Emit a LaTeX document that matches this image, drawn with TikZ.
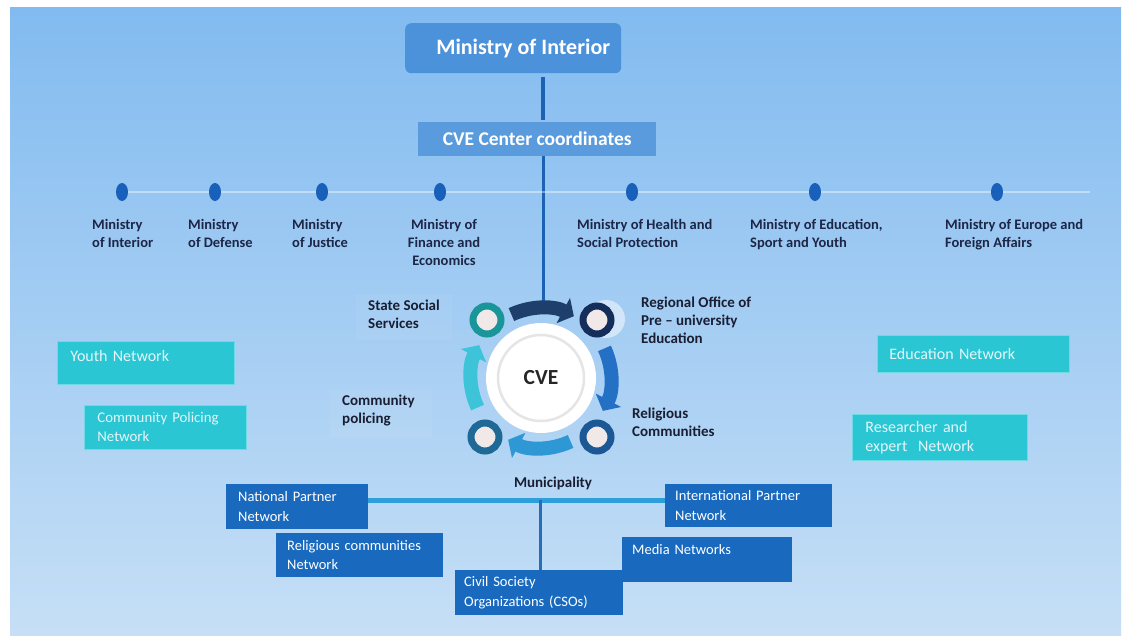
\documentclass[tikz,border=0pt]{standalone}
\usepackage{fontspec}
\setmainfont{Carlito}
\usetikzlibrary{arrows.meta,calc,shapes.geometric}
\definecolor{bgtop}{RGB}{130,187,240}
\definecolor{bgbot}{RGB}{198,223,246}
\definecolor{topFill}{RGB}{76,146,218}
\definecolor{spineC}{RGB}{28,98,178}
\definecolor{dotC}{RGB}{24,96,185}
\definecolor{minText}{RGB}{28,38,70}
\definecolor{cycText}{RGB}{25,30,50}
\definecolor{cyanFill}{RGB}{42,198,212}
\definecolor{cyanEdge}{RGB}{110,218,228}
\definecolor{cyanText}{RGB}{228,246,249}
\definecolor{darkFill}{RGB}{25,105,190}
\definecolor{barC}{RGB}{45,160,220}
\definecolor{stemC}{RGB}{40,110,180}
\definecolor{arrTop}{RGB}{30,62,108}
\definecolor{arrRight}{RGB}{35,112,196}
\definecolor{arrBottom}{RGB}{45,152,212}
\definecolor{arrLeft}{RGB}{62,196,216}
\definecolor{ringTL}{RGB}{26,150,155}
\definecolor{ringTR}{RGB}{20,45,90}
\definecolor{ringBL}{RGB}{30,105,150}
\definecolor{ringBR}{RGB}{28,88,150}
\definecolor{ringIn}{RGB}{240,233,231}
\tikzset{
  topbox/.style={fill=topFill, text=white, font=\fontsize{22}{25}\selectfont\bfseries, anchor=north west, inner sep=0pt},
  ministry/.style={font=\fontsize{14.5}{18}\selectfont\bfseries, text=minText, anchor=north west, inner sep=0pt, align=left},
  cyclabel/.style={font=\fontsize{15}{18}\selectfont\bfseries, text=cycText, anchor=north west, inner sep=0pt, align=left},
  dotnode/.style={ellipse, fill=dotC, minimum width=12pt, minimum height=18pt, inner sep=0pt},
  cyanbox/.style={fill=cyanFill, draw=cyanEdge, line width=0.8pt, text=cyanText, font=\fontsize{15.5}{19}\selectfont, align=left, anchor=north west, inner ysep=4pt},
  darkbox/.style={fill=darkFill, text=white, font=\fontsize{14.5}{19.5}\selectfont, align=left, anchor=north west, inner ysep=4pt},
  ring/.style={circle, fill=ringIn, minimum size=28pt, line width=7pt, inner sep=0pt},
  arcarrow/.style={line width=14pt, -{Triangle[width=28pt,length=12pt]}}
}
\begin{document}
\begin{tikzpicture}[x=1pt,y=-1pt]
\useasboundingbox (0,0) rectangle (1130,641);
\fill[white] (0,0) rectangle (1130,641);
\shade[top color=bgtop, bottom color=bgbot] (10,7) rectangle (1121,635);

% top boxes
\node[topbox, rounded corners=6pt, minimum width=216pt, minimum height=50pt] (moi) at (405,23) {\hspace{20pt}Ministry of Interior};
\node[topbox, fill=topFill!92!white, minimum width=238pt, minimum height=34pt, font=\fontsize{19.5}{22}\selectfont\bfseries] (cvec) at (418,122) {CVE Center coordinates\hspace{14pt}};
\coordinate (spine) at (543,0);
\coordinate (arrowtop) at (543,302);
\draw[spineC, line width=4pt] ($(moi.south -| spine)+(0,4)$) -- ($(cvec.north -| spine)+(0,-2)$);
\draw[spineC, line width=3pt] (cvec.south -| spine) -- (arrowtop);

% ministries row
\coordinate (rowend) at (1090,192);
\node[dotnode] (d1) at (122,192) {};
\node[dotnode] (d2) at (215,192) {};
\node[dotnode] (d3) at (322,192) {};
\node[dotnode] (d4) at (440,192) {};
\node[dotnode] (d5) at (632,192) {};
\node[dotnode] (d6) at (815,192) {};
\node[dotnode] (d7) at (997,192) {};
\draw[white, opacity=0.4, line width=2pt] (d1) -- (d2) -- (d3) -- (d4) -- (d5) -- (d6) -- (d7) -- (rowend);

\node[ministry] (m1) at (92,219) {Ministry\\of Interior};
\node[ministry] (m2) at (188,219) {Ministry\\of Defense};
\node[ministry] (m3) at (292,219) {Ministry\\of Justice};
\node[ministry, align=center, anchor=north] (m4) at (444,219) {Ministry of\\Finance and\\Economics};
\node[ministry] (m5) at (577,219) {Ministry of Health and\\Social Protection};
\node[ministry] (m6) at (750,219) {Ministry of Education,\\Sport and Youth};
\node[ministry] (m7) at (945,219) {Ministry of Europe and\\Foreign Affairs};

% faint label panels
\fill[white, opacity=0.05] (356,294) rectangle (452,340);
\fill[white, opacity=0.05] (330,390) rectangle (432,438);

% cycle
\coordinate (C) at (541,378);
\fill[white, opacity=0.5] (606,319) circle[radius=19];
\draw[arcarrow, arrTop] ($(C)+(245:70)$) arc[start angle=245, end angle=298, radius=70];
\draw[arcarrow, arrRight] ($(C)+(335:70)$) arc[start angle=335, end angle=388, radius=70];
\draw[arcarrow, arrBottom] ($(C)+(65:70)$) arc[start angle=65, end angle=118, radius=70];
\draw[arcarrow, arrLeft] ($(C)+(155:70)$) arc[start angle=155, end angle=208, radius=70];
\node[circle, fill=white, minimum size=110pt, inner sep=0pt] (disk) at (C) {};
\node[circle, draw=black!10, line width=2.5pt, minimum size=86pt, inner sep=0pt, font=\fontsize{21.5}{24}\selectfont\bfseries, text=black!85] (cve) at (C) {CVE};
\node[ring, draw=ringTL] (rTL) at (487,320) {};
\node[ring, draw=ringTR] (rTR) at (597,320) {};
\node[ring, draw=ringBL] (rBL) at (485,437) {};
\node[ring, draw=ringBR] (rBR) at (597,437) {};

\node[cyclabel] (lSSS) at (368,300) {State Social\\Services};
\node[cyclabel] (lROP) at (641,297) {Regional Office of\\Pre -- university\\Education};
\node[cyclabel] (lCP) at (342,395) {Community\\policing};
\node[cyclabel] (lRC) at (632,408) {Religious\\Communities};
\node[cyclabel, anchor=center] (lMun) at (553,483) {Municipality};

% cyan networks
\node[cyanbox, inner xsep=13pt, text width=151pt, minimum height=43pt, font=\fontsize{16}{19}\selectfont] (youth) at (57,341) {Youth Network\\[-6pt]\mbox{}};
\node[cyanbox, inner xsep=13pt, text width=136pt, minimum height=44pt, font=\fontsize{14.8}{19}\selectfont] (cpn) at (84,405) {Community Policing\\Network};
\node[cyanbox, inner xsep=12pt, text width=168pt, minimum height=37pt, font=\fontsize{16}{19}\selectfont] (edu) at (877,335) {Education Network};
\node[cyanbox, inner xsep=13pt, text width=149pt, minimum height=46pt, font=\fontsize{16}{19}\selectfont] (res) at (852,414) {Researcher and\\expert\ \ Network};

% dark networks
\coordinate (hub) at (540,500);
\node[darkbox, inner xsep=12pt, text width=118pt, minimum height=45pt] (natl) at (226,484) {National Partner\\Network};
\node[darkbox, inner xsep=10pt, text width=147pt, minimum height=43pt] (intl) at (665,484) {International Partner\\Network};
\draw[barC, line width=5pt] (natl.east |- hub) -- (intl.west |- hub);
\node[darkbox, inner xsep=11pt, text width=145pt, minimum height=44pt] (relnet) at (276,533) {Religious communities\\Network};
\node[darkbox, inner xsep=10pt, text width=150pt, minimum height=45pt] (media) at (622,537) {Media Networks\\\mbox{}};
\node[darkbox, inner xsep=9pt, text width=150pt, minimum height=45pt] (cso) at (455,570) {Civil Society\\Organizations (CSOs)};
\draw[stemC, line width=3pt] (hub) -- (cso.north -| hub);
\end{tikzpicture}
\end{document}
